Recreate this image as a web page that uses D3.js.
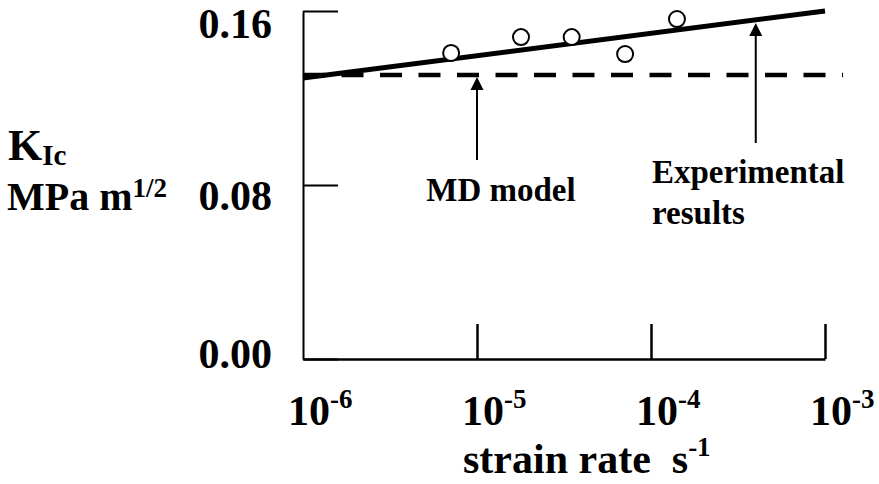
<!DOCTYPE html>
<html>
<head>
<meta charset="utf-8">
<script src="https://cdn.jsdelivr.net/npm/d3@7"></script>
<style>
  body { margin: 0; background: #fff; }
  svg { display: block; }
  text { font-family: "Liberation Serif", "Times New Roman", serif; font-weight: bold; fill: #000; white-space: pre; }
</style>
</head>
<body>
<svg id="chart" width="879" height="484"></svg>
<script>
// experimental points
const strainRate = [7.1e-6, 1.79e-5, 3.5e-5, 7.1e-5, 1.41e-4];
const kIc = [0.1407, 0.148, 0.148, 0.1402, 0.1563];

// fitted line through experiments
const fitRate = [1e-6, 1e-3];
const fitK = [0.1292, 0.16];

// MD model (constant)
const mdRate = [1e-6, 1.27e-3];
const mdK = [0.1306, 0.1306];

// ticks
const xTicks = [1e-6, 1e-5, 1e-4, 1e-3];
const xTickExp = ["-6", "-5", "-4", "-3"];
const yTicks = [0, 0.08, 0.16];

// arrows: [rate, tail K, tip K]
const mdArrow = [1e-5, 0.0915, 0.1296];
const expArrow = [4.0e-4, 0.0993, 0.1545];

const svg = d3.select("#chart");

const X_SCALE = d3.scaleLog().domain([1e-6, 1e-3]).range([303, 825]);
const Y_SCALE = d3.scaleLinear().domain([0, 0.16]).range([359, 11]);

function createAxes() {
  const xAxis = svg.append("g")
    .attr("transform", `translate(0, ${Y_SCALE(0)})`)
    .call(d3.axisBottom(X_SCALE).tickValues(xTicks.slice(1)).tickSize(-35).tickSizeOuter(0).tickFormat(""));
  xAxis.select(".domain").attr("stroke-width", 2.5);
  xAxis.selectAll(".tick line").attr("stroke-width", 2.5);

  const yAxis = svg.append("g")
    .attr("transform", `translate(${X_SCALE(1e-6)}, 0)`)
    .call(d3.axisLeft(Y_SCALE).tickValues(yTicks).tickSize(-35).tickSizeOuter(0).tickFormat(""));
  yAxis.select(".domain").attr("stroke-width", 2);
  yAxis.selectAll(".tick line").attr("stroke-width", 2);

  // y tick labels
  const yOffsets = { 0: 9, 0.08: 25, 0.16: 27 };
  svg.selectAll(".ylabel")
    .data(yTicks)
    .enter()
    .append("text")
    .classed("ylabel", true)
    .attr("x", X_SCALE(1e-6) - 31)
    .attr("y", d => Y_SCALE(d) + yOffsets[d])
    .attr("text-anchor", "end")
    .attr("font-size", 42)
    .text(d => d3.format(".2f")(d));

  // x tick labels
  const xl = svg.selectAll(".xlabel")
    .data(xTicks)
    .enter()
    .append("text")
    .classed("xlabel", true)
    .attr("x", d => X_SCALE(d) - 15)
    .attr("y", 425)
    .attr("font-size", 42);
  xl.append("tspan").text("10");
  xl.append("tspan").attr("font-size", 27).attr("dy", -17).text((d, i) => xTickExp[i]);
}

function createTitles() {
  const xt = svg.append("text").attr("x", 463).attr("y", 473).attr("font-size", 42);
  xt.append("tspan").text("strain rate  s");
  xt.append("tspan").attr("font-size", 27).attr("dy", -17).text("-1");

  const k = svg.append("text").attr("x", 8).attr("y", 160).attr("font-size", 44);
  k.append("tspan").text("K");
  k.append("tspan").attr("font-size", 29).attr("dy", 5).text("Ic");

  const u = svg.append("text").attr("x", 7).attr("y", 210).attr("font-size", 40);
  u.append("tspan").text("MPa m");
  u.append("tspan").attr("font-size", 27).attr("dy", -13).text("1/2");
}

function createLines() {
  const line = d3.line().x(d => X_SCALE(d[0])).y(d => Y_SCALE(d[1]));

  svg.append("path")
    .datum(mdRate.map((r, i) => [r, mdK[i]]))
    .attr("d", line)
    .attr("fill", "none")
    .attr("stroke", "#000")
    .attr("stroke-width", 4.5)
    .attr("stroke-dasharray", "22 16.5");

  svg.append("path")
    .datum(fitRate.map((r, i) => [r, fitK[i]]))
    .attr("d", line)
    .attr("fill", "none")
    .attr("stroke", "#000")
    .attr("stroke-width", 5);

  svg.selectAll(".pt")
    .data(strainRate)
    .enter()
    .append("circle")
    .classed("pt", true)
    .attr("cx", d => X_SCALE(d))
    .attr("cy", (d, i) => Y_SCALE(kIc[i]))
    .attr("r", 8)
    .attr("fill", "#fff")
    .attr("stroke", "#000")
    .attr("stroke-width", 2);
}

function createArrow(a) {
  const x = X_SCALE(a[0]);
  const tail = Y_SCALE(a[1]);
  const tip = Y_SCALE(a[2]);
  svg.append("line")
    .attr("x1", x).attr("x2", x)
    .attr("y1", tail).attr("y2", tip + 10)
    .attr("stroke", "#000")
    .attr("stroke-width", 2);
  svg.append("path")
    .attr("d", `M${x},${tip} L${x - 6.5},${tip + 13} L${x + 6.5},${tip + 13} Z`)
    .attr("fill", "#000");
}

function createAnnotations() {
  createArrow(mdArrow);
  createArrow(expArrow);

  svg.append("text").attr("x", 501).attr("y", 201).attr("text-anchor", "middle")
    .attr("font-size", 33).text("MD model");
  svg.append("text").attr("x", 652).attr("y", 183).attr("font-size", 33).text("Experimental");
  svg.append("text").attr("x", 652).attr("y", 224).attr("font-size", 33).text("results");
}

createAxes();
createTitles();
createLines();
createAnnotations();
</script>
</body>
</html>
